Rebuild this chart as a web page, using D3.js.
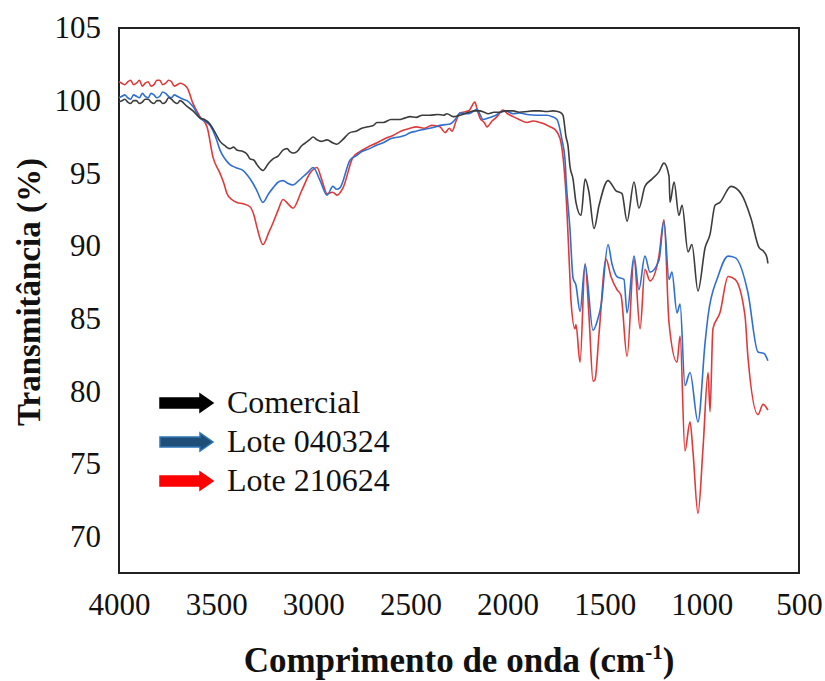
<!DOCTYPE html>
<html>
<head>
<meta charset="utf-8">
<script src="https://cdn.jsdelivr.net/npm/d3@7"></script>
<style>
  body { margin: 0; background: #fff; }
  text { font-family: "Liberation Serif", "Times New Roman", serif; fill: #111; }
</style>
</head>
<body>
<svg id="chart" width="825" height="681"></svg>
<script>
// wavenumber (cm-1), transmittance (%)
var comercial = [
  [4000, 99.9], [3985, 100.0], [3970, 100.1], [3955, 99.9], [3940, 99.8], [3925, 100.0], [3910, 100.0],
  [3895, 99.8], [3880, 99.9], [3865, 100.1], [3850, 100.1], [3835, 99.9], [3820, 99.8], [3805, 100.0],
  [3790, 100.0], [3775, 99.8], [3760, 99.9], [3745, 100.2], [3730, 100.1], [3715, 99.9], [3700, 99.8],
  [3686, 100.0], [3650, 99.6], [3619, 99.3], [3583, 98.8], [3560, 98.7], [3532, 98.4], [3505, 97.8],
  [3480, 97.2], [3455, 96.9], [3429, 96.7], [3410, 96.8], [3393, 96.6], [3362, 96.5], [3340, 96.3],
  [3326, 96.0], [3305, 95.9], [3290, 95.6], [3259, 95.2], [3230, 95.7], [3207, 96.0], [3180, 96.2],
  [3156, 96.6], [3135, 96.7], [3120, 96.5], [3104, 96.4], [3084, 96.5], [3060, 96.9], [3040, 97.1],
  [3020, 97.3], [3001, 97.5], [2980, 97.3], [2960, 97.2], [2929, 97.3], [2900, 97.1], [2878, 97.0],
  [2850, 97.3], [2811, 97.8], [2780, 97.9], [2750, 98.1], [2720, 98.2], [2690, 98.3], [2672, 98.5],
  [2640, 98.5], [2600, 98.7], [2560, 98.7], [2530, 98.8], [2502, 98.9], [2470, 98.85], [2440, 99.0],
  [2400, 99.0], [2360, 99.05], [2330, 99.0], [2312, 99.1], [2280, 98.9], [2245, 99.0], [2220, 99.1],
  [2200, 99.2], [2170, 99.3], [2142, 99.3], [2120, 99.2], [2100, 99.1], [2070, 99.2], [2039, 99.2],
  [2010, 99.3], [1972, 99.3], [1940, 99.2], [1900, 99.25], [1870, 99.3], [1833, 99.3], [1800, 99.25],
  [1766, 99.3], [1730, 99.2], [1715, 99.0], [1699, 97.5], [1689, 96.9], [1679, 95.5],
  [1663, 94.6], [1648, 93.0], [1622, 92.1], [1601, 94.6], [1581, 93.7], [1555, 91.2], [1529, 92.8],
  [1483, 94.5], [1442, 93.8], [1411, 93.6], [1385, 91.7], [1349, 94.4], [1324, 92.6], [1293, 94.1],
  [1257, 94.6], [1221, 95.1], [1195, 95.7], [1169, 94.8], [1164, 93.0], [1143, 94.4], [1118, 92.1],
  [1102, 92.8], [1071, 89.6], [1051, 90.1], [1020, 86.9], [983, 89.9], [958, 90.8], [932, 92.8],
  [907, 93.0], [850, 94.1], [798, 93.6], [747, 91.9], [706, 89.9], [680, 89.6], [665, 89.2], [660, 88.8]
];
var lote040324 = [
  [4000, 100.2], [3985, 100.3], [3970, 100.4], [3955, 100.2], [3940, 100.1], [3925, 100.4], [3910, 100.3],
  [3895, 100.2], [3880, 100.5], [3865, 100.3], [3850, 100.2], [3835, 100.5], [3820, 100.4], [3805, 100.2],
  [3790, 100.3], [3775, 100.6], [3760, 100.5], [3745, 100.3], [3730, 100.2], [3715, 100.4], [3700, 100.3],
  [3670, 100.1], [3650, 100.0], [3619, 99.6], [3583, 98.8], [3560, 98.6], [3532, 98.3], [3500, 97.4],
  [3480, 96.6], [3455, 96.0], [3429, 95.6], [3400, 95.4], [3362, 95.2], [3335, 94.8], [3310, 94.3],
  [3290, 93.8], [3259, 93.0], [3230, 93.6], [3207, 94.0], [3180, 94.4], [3156, 94.5], [3130, 94.3],
  [3104, 94.2], [3075, 94.5], [3050, 94.8], [3025, 95.1], [3001, 95.4], [2965, 94.5], [2929, 93.5],
  [2899, 94.1], [2880, 93.9], [2863, 94.0], [2811, 95.9], [2780, 96.2], [2750, 96.5], [2710, 96.7],
  [2672, 96.95], [2640, 97.1], [2600, 97.4], [2560, 97.5], [2530, 97.6], [2502, 97.8], [2470, 97.9],
  [2440, 98.0], [2400, 98.1], [2370, 98.2], [2348, 98.3], [2320, 98.35], [2296, 98.4], [2270, 98.7],
  [2245, 99.15], [2200, 99.1], [2157, 99.4], [2140, 99.0], [2127, 98.7], [2100, 98.8], [2080, 98.9],
  [2060, 99.0], [2039, 99.2], [2010, 99.3], [1972, 99.1], [1940, 99.15], [1900, 99.05], [1850, 99.0],
  [1797, 99.0], [1770, 98.9], [1746, 98.7], [1720, 97.3],
  [1704, 95.9], [1699, 94.6], [1679, 91.2], [1663, 87.8], [1648, 87.3], [1627, 85.5], [1601, 88.7],
  [1560, 84.2], [1535, 85.0], [1519, 85.9], [1483, 90.1], [1463, 88.8], [1437, 87.9], [1401, 87.7],
  [1385, 85.4], [1349, 89.3], [1324, 87.0], [1293, 89.3], [1267, 88.2], [1221, 89.0], [1195, 91.7],
  [1169, 87.7], [1154, 88.2], [1128, 85.4], [1112, 86.0], [1087, 80.4], [1061, 81.3], [1020, 77.9],
  [983, 83.4], [968, 85.2], [917, 87.9], [865, 89.3], [829, 89.2], [763, 86.8], [711, 82.7], [680, 82.6],
  [660, 82.1]
];
var lote210624 = [
  [4000, 101.3], [3985, 101.2], [3970, 101.1], [3955, 101.3], [3940, 101.4], [3925, 101.1], [3910, 101.2],
  [3895, 101.4], [3880, 101.0], [3865, 101.2], [3850, 101.3], [3835, 101.0], [3820, 101.1], [3805, 101.4],
  [3790, 101.4], [3775, 101.1], [3760, 101.2], [3745, 101.4], [3730, 101.3], [3715, 101.0], [3700, 101.1],
  [3686, 101.2], [3650, 100.9], [3619, 99.8], [3583, 98.9], [3547, 98.2], [3516, 96.1], [3480, 95.0],
  [3460, 94.3], [3444, 93.6], [3420, 93.2], [3393, 93.0], [3360, 92.9], [3326, 92.7], [3305, 92.1],
  [3290, 91.3], [3259, 90.1], [3230, 90.9], [3207, 91.6], [3180, 92.5], [3156, 93.2], [3130, 92.9],
  [3104, 92.6], [3060, 93.8], [3017, 95.0], [2981, 95.4], [2955, 94.5], [2929, 93.6], [2900, 93.7],
  [2878, 93.5], [2847, 94.0], [2796, 96.1], [2760, 96.5], [2720, 96.8], [2672, 97.1], [2630, 97.4],
  [2590, 97.6], [2550, 97.9], [2502, 98.1], [2470, 98.2], [2430, 98.1], [2390, 98.3], [2348, 98.2],
  [2322, 97.8], [2300, 98.1], [2286, 97.9], [2265, 98.6], [2245, 99.15], [2200, 99.3], [2168, 99.9],
  [2155, 99.3], [2142, 98.8], [2120, 98.5], [2106, 98.2], [2080, 98.6], [2054, 98.9], [2024, 99.35],
  [2000, 99.1], [1972, 98.9], [1940, 98.7], [1900, 98.5], [1870, 98.6], [1833, 98.5], [1810, 98.4],
  [1782, 98.2], [1755, 98.0], [1730, 97.4], [1699, 93.5],
  [1679, 87.8], [1674, 86.3], [1653, 84.3], [1648, 84.6], [1627, 82.0], [1601, 88.8], [1581, 85.2],
  [1560, 80.7], [1550, 80.8], [1529, 84.0], [1493, 89.1], [1468, 87.9], [1437, 87.0], [1416, 86.6],
  [1385, 82.4], [1349, 89.1], [1318, 84.3], [1293, 88.4], [1267, 87.6], [1221, 89.3], [1195, 91.8],
  [1169, 84.7], [1128, 82.0], [1112, 83.8], [1087, 75.9], [1061, 77.9], [1046, 75.9], [1020, 71.6],
  [994, 76.1], [968, 81.3], [958, 78.6], [943, 84.3], [907, 85.4], [865, 87.9], [829, 87.7], [778, 85.2],
  [763, 82.4], [711, 78.4], [685, 79.1], [660, 78.7]
];

var seriesNames = ['Comercial', 'Lote 040324', 'Lote 210624'];
var xTicks = [4000, 3500, 3000, 2500, 2000, 1500, 1000, 500];
var yTicks = [70, 75, 80, 85, 90, 95, 100, 105];

var svg = d3.select('#chart');
var plotLeft = 119, plotRight = 799, plotTop = 28, plotBottom = 573;

var x = d3.scaleLinear().domain([4000, 500]).range([plotLeft, plotRight]);
var y = d3.scaleLinear().domain([67.5, 105]).range([plotBottom, plotTop]);

// plot box
svg.append('rect')
  .attr('x', plotLeft).attr('y', plotTop)
  .attr('width', plotRight - plotLeft).attr('height', plotBottom - plotTop)
  .attr('fill', '#fff').attr('stroke', '#222').attr('stroke-width', 2);

// axes (labels only, no tick marks)
var xAxis = svg.append('g').attr('transform', 'translate(0,' + plotBottom + ')')
  .call(d3.axisBottom(x).tickValues(xTicks).tickSize(0).tickPadding(20).tickFormat(d3.format('d')));
var yAxis = svg.append('g').attr('transform', 'translate(' + plotLeft + ',0)')
  .call(d3.axisLeft(y).tickValues(yTicks).tickSize(0).tickPadding(18).tickFormat(d3.format('d')));
[xAxis, yAxis].forEach(function(a){
  a.select('.domain').remove();
  a.selectAll('text').style('font-family', '"Liberation Serif", serif').style('font-size', '31px').attr('fill', '#111');
});

var line = d3.line()
  .curve(d3.curveMonotoneX)
  .x(function(d){ return x(d[0]); })
  .y(function(d){ return y(d[1]); });

var colors = ['#3c3c3c', '#2f6fcf', '#e0393a'];
var data = [comercial, lote040324, lote210624];
// draw red first so black sits on top like the original
[2, 1, 0].forEach(function(i){
  svg.append('path')
    .datum(data[i])
    .attr('fill', 'none')
    .attr('stroke', colors[i])
    .attr('stroke-width', 1.6)
    .attr('stroke-linejoin', 'round')
    .attr('d', line);
});

// legend with block arrows
var arrowFill = ['#000', '#1f4e79', '#ff0000'];
var arrowStroke = ['#000', '#2e75b6', '#ff0000'];
var legendY = [403, 442, 481];
var arrow = 'M0,-5 L40,-5 L40,-9 L53,0 L40,9 L40,5 L0,5 Z';
seriesNames.forEach(function(name, i){
  var g = svg.append('g').attr('transform', 'translate(160,' + legendY[i] + ')');
  g.append('path').attr('d', arrow)
    .attr('fill', arrowFill[i]).attr('stroke', arrowStroke[i]).attr('stroke-width', 1.5);
  g.append('text').attr('x', 67).attr('y', 10)
    .style('font-size', '32px').text(name);
});

// axis titles
svg.append('text')
  .attr('transform', 'translate(40,' + 292 + ') rotate(-90)')
  .attr('text-anchor', 'middle')
  .style('font-size', '33px').style('font-weight', 'bold')
  .text('Transmitância (%)');

var xt = svg.append('text')
  .attr('x', 459).attr('y', 672)
  .attr('text-anchor', 'middle')
  .style('font-size', '35px').style('font-weight', 'bold');
xt.append('tspan').text('Comprimento de onda (cm');
xt.append('tspan').attr('dy', -13).style('font-size', '21px').text('-1');
xt.append('tspan').attr('dy', 13).text(')');
</script>
</body>
</html>
